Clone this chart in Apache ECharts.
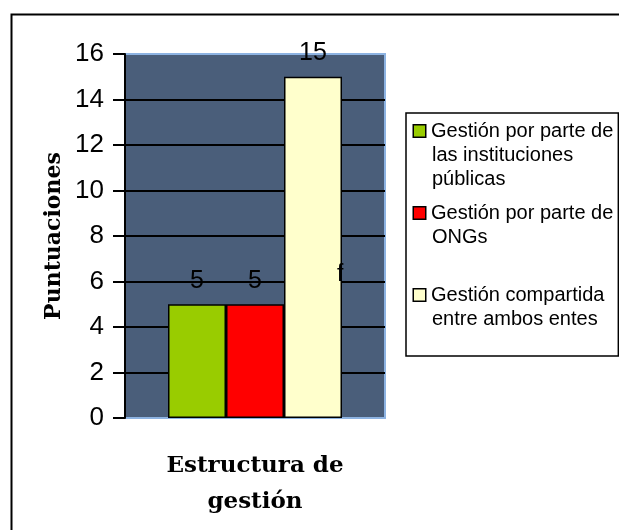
<!DOCTYPE html>
<html>
<head>
<meta charset="utf-8">
<script src="https://cdn.jsdelivr.net/npm/echarts@6/dist/echarts.min.js"></script>
<style>
  html, body { margin: 0; padding: 0; background: #fff; }
  #chart { width: 619px; height: 530px; }
</style>
</head>
<body>
<div id="chart"></div>
<script>
  // datos
  const categories = ['Estructura de gestión']
  const seriesNames = [
    'Gestión por parte de las instituciones públicas',
    'Gestión por parte de ONGs',
    'Gestión compartida entre ambos entes'
  ]
  const publicas = [5]
  const ongs = [5]
  const compartida = [15]
  const barColors = ['#99cc00', '#ff0000', '#ffffcc']
  // texto de la leyenda, por líneas
  const legendLines = {
    'Gestión por parte de las instituciones públicas': ['Gestión por parte de', 'las instituciones', 'públicas'],
    'Gestión por parte de ONGs': ['Gestión por parte de', 'ONGs', ''],
    'Gestión compartida entre ambos entes': ['Gestión compartida', 'entre ambos entes']
  }
  const yMin = 0, yMax = 16, yStep = 2

  const sans = "'Liberation Sans', Arial, sans-serif"
  const serif = "'DejaVu Serif', serif"

  const myChart = echarts.init(document.getElementById('chart'))

  const rich = {
    t: { fontSize: 20, fontFamily: sans, color: '#000', lineHeight: 24 },
    sp: { width: 6, lineHeight: 24 },
    p: { width: 18, lineHeight: 24 }
  }
  const iconKeys = ['g0', 'g1', 'g2']
  iconKeys.forEach((k, i) => {
    rich[k] = { width: 11, height: 11, backgroundColor: barColors[i], borderColor: '#000', borderWidth: 1.5, lineHeight: 24 }
  })

  const dataSets = [publicas, ongs, compartida]
  const series = dataSets.map((d, i) => ({
    name: seriesNames[i],
    type: 'bar',
    data: d,
    barWidth: 58,
    barGap: '0%',
    itemStyle: { color: barColors[i], borderColor: '#000', borderWidth: 1.5 },
    label: {
      show: true,
      position: 'top',
      distance: 11,
      fontSize: 25,
      fontFamily: sans,
      color: '#000'
    }
  }))

  const option = {
    animation: false,
    backgroundColor: '#fff',
    grid: {
      left: 125, right: 234, top: 54, bottom: 112,
      show: true,
      backgroundColor: '#4a5e7a',
      borderColor: '#8db3e2',
      borderWidth: 2
    },
    legend: {
      orient: 'vertical',
      left: 406,
      top: 113,
      padding: [6, 5, 25, 2],
      itemGap: 10,
      itemWidth: 0,
      itemHeight: 0,
      icon: 'rect',
      selectedMode: false,
      backgroundColor: '#fff',
      borderColor: '#000',
      borderWidth: 1.5,
      data: seriesNames,
      formatter: (name) => {
        const idx = seriesNames.indexOf(name)
        return legendLines[name].map((line, j) => {
          const lead = j === 0 ? '{' + iconKeys[idx] + '|}{sp|}' : '{p|}'
          return line ? lead + '{t|' + line + '}' : lead
        }).join('\n')
      },
      textStyle: { fontSize: 20, fontFamily: sans, lineHeight: 24, rich: rich }
    },
    xAxis: {
      type: 'category',
      data: categories,
      name: 'Estructura de\ngestión',
      nameLocation: 'middle',
      nameGap: 30,
      nameTextStyle: { fontFamily: serif, fontWeight: 'bold', fontSize: 23, color: '#000', lineHeight: 36 },
      axisLine: { show: false },
      axisTick: { show: false },
      axisLabel: { show: false }
    },
    yAxis: {
      type: 'value',
      min: yMin,
      max: yMax,
      interval: yStep,
      name: 'Puntuaciones',
      nameLocation: 'middle',
      nameGap: 60,
      nameTextStyle: { fontFamily: serif, fontWeight: 'bold', fontSize: 22, color: '#000' },
      axisLine: { show: true, lineStyle: { color: '#000', width: 2 } },
      axisTick: { show: true, length: 12, lineStyle: { color: '#000', width: 2 } },
      axisLabel: { margin: 21, fontSize: 26, fontFamily: sans, color: '#000' },
      splitLine: { show: true, showMinLine: false, showMaxLine: false, lineStyle: { color: '#000', width: 2 } }
    },
    graphic: [
      {
        type: 'rect',
        left: 9, top: 12,
        shape: { width: 700, height: 600 },
        style: { fill: 'none', stroke: '#000', lineWidth: 2 },
        silent: true,
        z: -10
      },
      {
        type: 'text',
        left: 337, top: 263,
        style: { text: 'f', fontSize: 23, fontFamily: sans, fill: '#000' },
        silent: true,
        z: 100
      }
    ],
    series: series
  }

  myChart.setOption(option)
</script>
</body>
</html>
